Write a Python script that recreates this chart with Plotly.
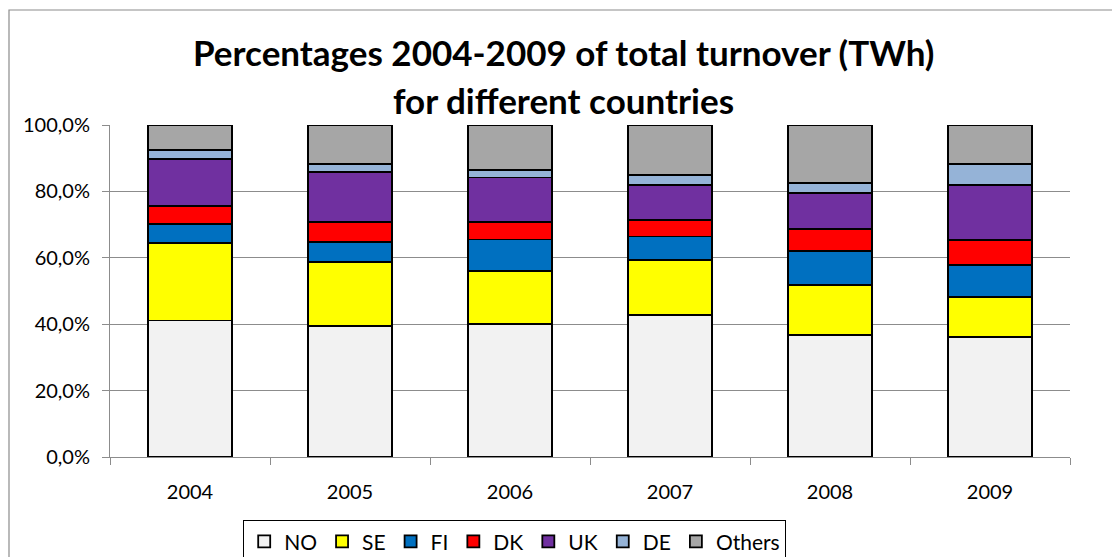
import plotly.graph_objects as go

years = ["2004", "2005", "2006", "2007", "2008", "2009"]
series_names = ["NO", "SE", "FI", "DK", "UK", "DE", "Others"]
NO = [41.1, 39.5, 40.0, 42.7, 36.7, 36.2]
SE = [23.3, 19.3, 16.1, 16.6, 15.2, 11.9]
FI = [5.8, 6.0, 9.4, 7.1, 10.2, 9.7]
DK = [5.4, 6.0, 5.3, 5.0, 6.6, 7.6]
UK = [14.1, 15.0, 13.4, 10.6, 10.7, 16.6]
DE = [2.7, 2.4, 2.2, 2.9, 3.2, 6.2]
Others = [7.6, 11.8, 13.6, 15.1, 17.4, 11.8]
colors = ["#F2F2F2", "#FFFF00", "#0070C0", "#FF0000", "#7030A0", "#95B3D7", "#A6A6A6"]
y_ticks = [0, 20, 40, 60, 80, 100]

FONT = "Lato"
W, H = 1112, 557
L, R, T, B = 110, 42, 125, 100
PW, PH = W - L - R, H - T - B

def px_x(x):
    return (x - L) / PW

def px_y(y):
    return (H - B - y) / PH

fig = go.Figure()
for name, vals, col in zip(series_names, [NO, SE, FI, DK, UK, DE, Others], colors):
    fig.add_trace(go.Bar(
        x=years, y=[v / 100 for v in vals], name=name,
        marker=dict(color=col, line=dict(color="#000000", width=1.8)),
    ))

fig.update_layout(
    width=W, height=H,
    margin=dict(l=L, r=R, t=T, b=B, pad=0, autoexpand=False),
    barmode="stack", bargap=0.475,
    paper_bgcolor="white", plot_bgcolor="white",
    separators=",.",
    font=dict(family=FONT, size=20, color="#000000"),
    showlegend=True,
    legend=dict(
        orientation="h", x=px_x(243), y=px_y(520), xanchor="left", yanchor="top",
        bordercolor="#000000", borderwidth=1.2, traceorder="normal",
        font=dict(family=FONT, size=21), itemwidth=30, bgcolor="white",
    ),
    xaxis=dict(
        type="category", showline=True, linecolor="#8c8c8c", linewidth=1,
        ticks="outside", tickson="boundaries", ticklen=7, tickcolor="#8c8c8c",
        ticklabelstandoff=17, showgrid=False, fixedrange=True,
        tickfont=dict(family=FONT, size=20),
    ),
    yaxis=dict(
        range=[0, 1], tickvals=[t / 100 for t in y_ticks], tickformat=".1%",
        showline=True, linecolor="#8c8c8c", linewidth=1,
        ticks="outside", ticklen=7, tickcolor="#8c8c8c",
        showgrid=True, gridcolor="#8c8c8c", gridwidth=1,
        ticklabelstandoff=8, zeroline=False,
        tickfont=dict(family=FONT, size=20),
    ),
    shapes=[dict(
        type="rect", xref="paper", yref="paper",
        x0=px_x(9), x1=px_x(1130), y0=px_y(580), y1=px_y(10),
        line=dict(color="#8c8c8c", width=1.2), fillcolor="rgba(0,0,0,0)", layer="below",
    )],
    annotations=[
        dict(text="<b>Percentages 2004-2009 of total turnover (TWh)</b>", x=px_x(563.5), y=px_y(52),
             xref="paper", yref="paper", xanchor="center", yanchor="middle", showarrow=False,
             font=dict(family=FONT, size=35, color="#000000")),
        dict(text="<b>for different countries</b>", x=px_x(563.5), y=px_y(100),
             xref="paper", yref="paper", xanchor="center", yanchor="middle", showarrow=False,
             font=dict(family=FONT, size=35, color="#000000")),
    ],
)

fig.write_html("out.html")
